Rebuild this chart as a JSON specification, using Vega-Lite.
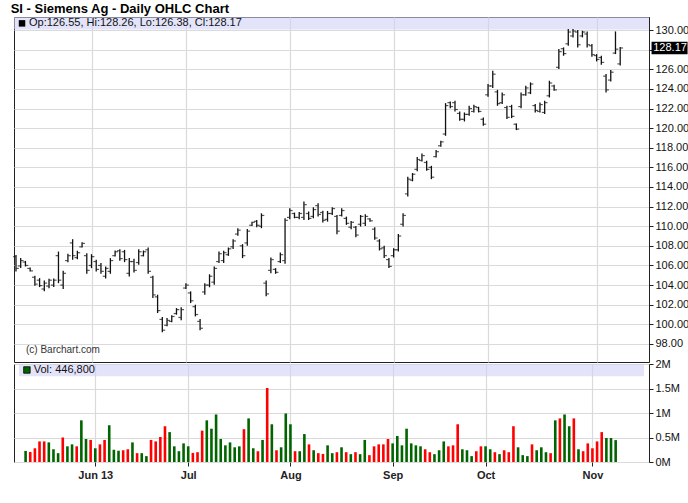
{
"$schema": "https://vega.github.io/schema/vega-lite/v6.json",
"padding": {"left": 10, "top": 2, "right": 2, "bottom": 2},
"title": {"text": "SI - Siemens Ag - Daily OHLC Chart", "anchor": "start", "frame": "bounds", "font": "Liberation Sans", "fontSize": 13, "fontWeight": "bold", "color": "#000", "offset": 1, "dx": -2},
"spacing": 2,
"bounds": "flush",
"datasets": {"bars": [
{"i":0,"o":106.9,"h":107.08,"l":105.39,"c":105.7,"v":null,"d":null},
{"i":1,"o":105.95,"h":106.75,"l":105.73,"c":106.5,"v":226000,"d":"u"},
{"i":2,"o":106.35,"h":106.47,"l":105.9,"c":106.0,"v":205000,"d":"d"},
{"i":3,"o":105.7,"h":105.8,"l":105.39,"c":105.45,"v":280000,"d":"d"},
{"i":4,"o":104.8,"h":104.95,"l":103.93,"c":104.1,"v":420000,"d":"d"},
{"i":5,"o":104.5,"h":104.71,"l":103.8,"c":103.95,"v":420000,"d":"d"},
{"i":6,"o":103.6,"h":104.47,"l":103.36,"c":104.2,"v":400000,"d":"u"},
{"i":7,"o":103.9,"h":104.64,"l":103.69,"c":104.5,"v":260000,"d":"u"},
{"i":8,"o":104.0,"h":104.68,"l":103.8,"c":104.5,"v":180000,"d":"u"},
{"i":9,"o":107.0,"h":107.42,"l":104.2,"c":104.5,"v":500000,"d":"d"},
{"i":10,"o":104.0,"h":105.46,"l":103.59,"c":105.2,"v":320000,"d":"u"},
{"i":11,"o":106.5,"h":107.19,"l":106.34,"c":107.0,"v":360000,"d":"u"},
{"i":12,"o":108.3,"h":108.68,"l":106.58,"c":107.0,"v":320000,"d":"d"},
{"i":13,"o":106.8,"h":107.49,"l":106.64,"c":107.3,"v":850000,"d":"u"},
{"i":14,"o":107.9,"h":108.37,"l":107.83,"c":108.25,"v":470000,"d":"u"},
{"i":15,"o":107.0,"h":107.25,"l":105.15,"c":105.5,"v":450000,"d":"d"},
{"i":16,"o":106.0,"h":107.15,"l":105.73,"c":106.9,"v":280000,"d":"u"},
{"i":17,"o":106.4,"h":106.58,"l":105.39,"c":105.6,"v":360000,"d":"d"},
{"i":18,"o":106.0,"h":106.24,"l":105.15,"c":105.4,"v":450000,"d":"d"},
{"i":19,"o":104.9,"h":105.9,"l":104.68,"c":105.7,"v":750000,"d":"u"},
{"i":20,"o":105.4,"h":106.75,"l":105.15,"c":106.5,"v":250000,"d":"u"},
{"i":21,"o":107.0,"h":107.53,"l":106.92,"c":107.4,"v":230000,"d":"u"},
{"i":22,"o":107.5,"h":107.66,"l":106.47,"c":106.7,"v":240000,"d":"d"},
{"i":23,"o":107.4,"h":107.59,"l":106.34,"c":106.6,"v":260000,"d":"d"},
{"i":24,"o":105.2,"h":106.75,"l":104.88,"c":106.4,"v":400000,"d":"u"},
{"i":25,"o":106.4,"h":106.68,"l":105.29,"c":105.5,"v":180000,"d":"d"},
{"i":26,"o":106.3,"h":107.66,"l":106.07,"c":107.4,"v":180000,"d":"u"},
{"i":27,"o":107.0,"h":107.53,"l":106.92,"c":107.4,"v":120000,"d":"u"},
{"i":28,"o":107.6,"h":107.83,"l":105.15,"c":105.4,"v":450000,"d":"d"},
{"i":29,"o":104.8,"h":104.95,"l":102.68,"c":103.0,"v":420000,"d":"d"},
{"i":30,"o":102.8,"h":103.02,"l":101.15,"c":101.4,"v":510000,"d":"d"},
{"i":31,"o":100.5,"h":100.75,"l":99.19,"c":99.4,"v":730000,"d":"d"},
{"i":32,"o":99.9,"h":100.64,"l":99.8,"c":100.4,"v":610000,"d":"u"},
{"i":33,"o":100.3,"h":100.92,"l":100.2,"c":100.8,"v":320000,"d":"u"},
{"i":34,"o":101.1,"h":101.66,"l":100.98,"c":101.5,"v":220000,"d":"u"},
{"i":35,"o":100.7,"h":101.73,"l":100.41,"c":101.5,"v":380000,"d":"u"},
{"i":36,"o":103.7,"h":104.2,"l":103.59,"c":104.0,"v":320000,"d":"u"},
{"i":37,"o":103.2,"h":103.36,"l":102.17,"c":102.4,"v":185000,"d":"d"},
{"i":38,"o":101.8,"h":102.0,"l":100.81,"c":101.0,"v":200000,"d":"d"},
{"i":39,"o":100.3,"h":100.54,"l":99.39,"c":99.6,"v":640000,"d":"d"},
{"i":40,"o":103.3,"h":104.2,"l":103.02,"c":104.0,"v":850000,"d":"u"},
{"i":41,"o":104.0,"h":105.1,"l":103.78,"c":104.9,"v":680000,"d":"u"},
{"i":42,"o":104.3,"h":105.9,"l":104.03,"c":105.7,"v":970000,"d":"u"},
{"i":43,"o":106.4,"h":107.42,"l":106.24,"c":107.2,"v":470000,"d":"u"},
{"i":44,"o":106.5,"h":107.49,"l":106.24,"c":107.3,"v":340000,"d":"u"},
{"i":45,"o":107.1,"h":107.83,"l":106.98,"c":107.7,"v":400000,"d":"u"},
{"i":46,"o":107.9,"h":108.68,"l":107.69,"c":108.5,"v":300000,"d":"u"},
{"i":47,"o":109.2,"h":109.8,"l":109.02,"c":109.6,"v":320000,"d":"u"},
{"i":48,"o":108.0,"h":108.17,"l":106.75,"c":107.0,"v":670000,"d":"d"},
{"i":49,"o":108.3,"h":109.73,"l":108.0,"c":109.5,"v":890000,"d":"u"},
{"i":50,"o":110.1,"h":110.47,"l":110.03,"c":110.4,"v":280000,"d":"u"},
{"i":51,"o":110.5,"h":110.64,"l":109.9,"c":110.1,"v":220000,"d":"d"},
{"i":52,"o":110.0,"h":111.32,"l":109.8,"c":111.1,"v":450000,"d":"u"},
{"i":53,"o":104.2,"h":104.47,"l":102.85,"c":103.1,"v":1510000,"d":"d"},
{"i":54,"o":105.5,"h":106.81,"l":105.22,"c":106.6,"v":770000,"d":"u"},
{"i":55,"o":105.6,"h":105.73,"l":105.15,"c":105.3,"v":240000,"d":"d"},
{"i":56,"o":106.4,"h":107.32,"l":106.24,"c":107.1,"v":300000,"d":"u"},
{"i":57,"o":106.5,"h":110.81,"l":106.17,"c":110.6,"v":990000,"d":"u"},
{"i":58,"o":110.9,"h":111.83,"l":110.71,"c":111.6,"v":770000,"d":"u"},
{"i":59,"o":111.3,"h":111.39,"l":110.81,"c":110.9,"v":220000,"d":"d"},
{"i":60,"o":110.9,"h":111.46,"l":110.71,"c":111.3,"v":220000,"d":"u"},
{"i":61,"o":110.9,"h":112.51,"l":110.64,"c":112.2,"v":570000,"d":"u"},
{"i":62,"o":111.3,"h":111.49,"l":110.64,"c":110.8,"v":360000,"d":"d"},
{"i":63,"o":111.0,"h":111.93,"l":110.81,"c":111.7,"v":240000,"d":"u"},
{"i":64,"o":112.1,"h":112.34,"l":110.98,"c":111.2,"v":180000,"d":"d"},
{"i":65,"o":111.4,"h":111.59,"l":110.37,"c":110.6,"v":165000,"d":"d"},
{"i":66,"o":110.7,"h":111.56,"l":110.47,"c":111.3,"v":340000,"d":"u"},
{"i":67,"o":111.3,"h":111.93,"l":111.15,"c":111.8,"v":180000,"d":"u"},
{"i":68,"o":111.0,"h":111.15,"l":109.19,"c":109.5,"v":200000,"d":"d"},
{"i":69,"o":111.1,"h":111.83,"l":110.98,"c":111.6,"v":300000,"d":"u"},
{"i":70,"o":110.8,"h":110.98,"l":110.14,"c":110.3,"v":200000,"d":"d"},
{"i":71,"o":109.9,"h":110.54,"l":109.69,"c":110.4,"v":160000,"d":"u"},
{"i":72,"o":109.9,"h":110.03,"l":108.88,"c":109.1,"v":200000,"d":"d"},
{"i":73,"o":110.2,"h":111.15,"l":109.97,"c":111.0,"v":160000,"d":"u"},
{"i":74,"o":110.3,"h":111.22,"l":110.03,"c":111.0,"v":450000,"d":"u"},
{"i":75,"o":110.75,"h":110.81,"l":110.47,"c":110.55,"v":140000,"d":"d"},
{"i":76,"o":109.7,"h":109.9,"l":108.61,"c":108.8,"v":320000,"d":"d"},
{"i":77,"o":108.5,"h":108.68,"l":107.53,"c":107.7,"v":360000,"d":"d"},
{"i":78,"o":107.8,"h":108.0,"l":106.75,"c":107.0,"v":360000,"d":"d"},
{"i":79,"o":106.6,"h":106.75,"l":105.73,"c":105.9,"v":470000,"d":"d"},
{"i":80,"o":107.0,"h":107.76,"l":106.81,"c":107.6,"v":380000,"d":"u"},
{"i":81,"o":107.6,"h":109.22,"l":107.42,"c":109.0,"v":530000,"d":"u"},
{"i":82,"o":110.2,"h":111.32,"l":109.97,"c":111.1,"v":340000,"d":"u"},
{"i":83,"o":113.3,"h":115.05,"l":113.02,"c":114.8,"v":680000,"d":"u"},
{"i":84,"o":114.7,"h":115.42,"l":114.58,"c":115.3,"v":380000,"d":"u"},
{"i":85,"o":115.8,"h":117.05,"l":115.6,"c":116.8,"v":340000,"d":"u"},
{"i":86,"o":116.7,"h":117.41,"l":116.6,"c":117.2,"v":320000,"d":"u"},
{"i":87,"o":116.5,"h":116.67,"l":115.65,"c":115.8,"v":260000,"d":"d"},
{"i":88,"o":116.0,"h":116.16,"l":114.8,"c":115.0,"v":200000,"d":"d"},
{"i":89,"o":117.1,"h":117.76,"l":117.01,"c":117.6,"v":160000,"d":"u"},
{"i":90,"o":118.2,"h":118.71,"l":118.1,"c":118.6,"v":240000,"d":"u"},
{"i":91,"o":119.4,"h":122.55,"l":119.22,"c":122.3,"v":420000,"d":"u"},
{"i":92,"o":122.6,"h":122.72,"l":122.04,"c":122.2,"v":320000,"d":"d"},
{"i":93,"o":122.6,"h":122.79,"l":121.7,"c":121.9,"v":340000,"d":"d"},
{"i":94,"o":121.5,"h":121.7,"l":120.75,"c":120.9,"v":770000,"d":"d"},
{"i":95,"o":120.9,"h":121.6,"l":120.68,"c":121.4,"v":260000,"d":"u"},
{"i":96,"o":121.4,"h":122.28,"l":121.26,"c":122.0,"v":240000,"d":"u"},
{"i":97,"o":121.7,"h":122.38,"l":121.6,"c":122.2,"v":120000,"d":"u"},
{"i":98,"o":122.1,"h":122.18,"l":121.6,"c":121.7,"v":220000,"d":"d"},
{"i":99,"o":120.9,"h":121.09,"l":120.24,"c":120.4,"v":320000,"d":"d"},
{"i":100,"o":123.4,"h":124.49,"l":123.2,"c":124.3,"v":320000,"d":"u"},
{"i":101,"o":124.3,"h":125.85,"l":124.08,"c":125.5,"v":260000,"d":"u"},
{"i":102,"o":123.7,"h":123.91,"l":122.28,"c":122.5,"v":200000,"d":"d"},
{"i":103,"o":122.6,"h":123.64,"l":122.45,"c":123.4,"v":160000,"d":"u"},
{"i":104,"o":122.1,"h":122.28,"l":120.92,"c":121.1,"v":240000,"d":"d"},
{"i":105,"o":122.2,"h":122.38,"l":121.02,"c":121.2,"v":200000,"d":"d"},
{"i":106,"o":120.4,"h":120.48,"l":119.8,"c":119.9,"v":730000,"d":"d"},
{"i":107,"o":122.2,"h":123.64,"l":122.04,"c":123.4,"v":300000,"d":"u"},
{"i":108,"o":123.4,"h":124.32,"l":123.3,"c":124.1,"v":140000,"d":"u"},
{"i":109,"o":123.6,"h":124.66,"l":123.47,"c":124.5,"v":120000,"d":"u"},
{"i":110,"o":122.3,"h":122.45,"l":121.6,"c":121.8,"v":360000,"d":"d"},
{"i":111,"o":121.7,"h":122.62,"l":121.6,"c":122.4,"v":240000,"d":"u"},
{"i":112,"o":121.6,"h":122.79,"l":121.43,"c":122.6,"v":300000,"d":"u"},
{"i":113,"o":123.3,"h":124.83,"l":123.13,"c":124.6,"v":200000,"d":"u"},
{"i":114,"o":124.3,"h":124.42,"l":123.81,"c":123.9,"v":180000,"d":"d"},
{"i":115,"o":126.2,"h":128.06,"l":126.02,"c":127.8,"v":850000,"d":"u"},
{"i":116,"o":128.1,"h":128.23,"l":127.38,"c":127.6,"v":890000,"d":"d"},
{"i":117,"o":128.6,"h":130.1,"l":128.4,"c":129.8,"v":970000,"d":"u"},
{"i":118,"o":129.4,"h":130.1,"l":129.25,"c":129.9,"v":730000,"d":"u"},
{"i":119,"o":129.8,"h":130.0,"l":128.23,"c":128.5,"v":890000,"d":"d"},
{"i":120,"o":129.4,"h":129.93,"l":129.25,"c":129.8,"v":260000,"d":"u"},
{"i":121,"o":129.6,"h":129.86,"l":128.23,"c":128.5,"v":220000,"d":"d"},
{"i":122,"o":128.4,"h":128.57,"l":127.28,"c":127.5,"v":380000,"d":"d"},
{"i":123,"o":127.4,"h":127.55,"l":126.8,"c":127.0,"v":280000,"d":"d"},
{"i":124,"o":127.2,"h":127.38,"l":126.46,"c":126.7,"v":420000,"d":"d"},
{"i":125,"o":125.3,"h":125.51,"l":123.64,"c":123.9,"v":610000,"d":"d"},
{"i":126,"o":124.9,"h":125.92,"l":124.76,"c":125.7,"v":490000,"d":"u"},
{"i":127,"o":127.65,"h":129.86,"l":127.55,"c":128.05,"v":490000,"d":"u"},
{"i":128,"o":126.55,"h":128.26,"l":126.38,"c":128.17,"v":446800,"d":"u"}
]},
"config": {
  "view": {"stroke": "#222", "strokeWidth": 1},
  "axis": {"labelFont": "Liberation Sans", "labelFontSize": 11, "labelColor": "#111", "gridColor": "#dadada", "gridWidth": 1.2, "domainColor": "#222", "tickColor": "#222", "zindex": 0},
  "text": {"font": "Liberation Sans"}
},
"vconcat": [
 {
  "width": 635, "height": 345,
  "data": {"name": "bars"},
  "layer": [
   {"data": {"values": [{}]}, "mark": {"type": "rect", "color": "#d0d0f6", "opacity": 0.6},
    "encoding": {"x": {"datum": -0.42, "type": "quantitative"}, "x2": {"datum": 134.1}, "y": {"datum": 130.05, "type": "quantitative"}, "y2": {"datum": 131.33}}},
   {"mark": {"type": "rule", "color": "#111", "strokeWidth": 1.3},
    "encoding": {
      "x": {"field": "i", "type": "quantitative", "scale": {"domain": [-0.42, 134.1], "nice": false, "zero": false},
            "axis": {"values": [16,36,58,80,100,123], "tickCount": 50, "grid": true, "labels": false, "ticks": false, "domain": false, "title": null, "minExtent": 0, "maxExtent": 0, "offset": 0}},
      "y": {"field": "l", "type": "quantitative", "scale": {"domain": [96.16, 131.33], "nice": false, "zero": false},
            "axis": {"orient": "right", "values": [98,100,102,104,106,108,110,112,114,116,118,120,122,124,126,128,130], "tickCount": 50, "labelExpr": "datum.value == 128 ? '' : format(datum.value, '.2f')", "grid": true, "tickSize": 4, "labelPadding": 2, "labelOverlap": false, "labelBound": false, "title": null}},
      "y2": {"field": "h"}}},
   {"mark": {"type": "tick", "orient": "horizontal", "size": 2.5, "thickness": 1.2, "xOffset": -1.6, "color": "#111"},
    "encoding": {"x": {"field": "i", "type": "quantitative"}, "y": {"field": "o", "type": "quantitative"}}},
   {"mark": {"type": "tick", "orient": "horizontal", "size": 2.5, "thickness": 1.2, "xOffset": 1.6, "color": "#111"},
    "encoding": {"x": {"field": "i", "type": "quantitative"}, "y": {"field": "c", "type": "quantitative"}}},
   {"data": {"values": [{}]}, "mark": {"type": "point", "shape": "square", "filled": true, "size": 42, "color": "#000", "opacity": 1},
    "encoding": {"x": {"datum": 1.28, "type": "quantitative"}, "y": {"datum": 130.68, "type": "quantitative"}}},
   {"data": {"values": [{}]}, "mark": {"type": "text", "text": "Op:126.55, Hi:128.26, Lo:126.38, Cl:128.17", "align": "left", "baseline": "middle", "fontSize": 11, "color": "#111"},
    "encoding": {"x": {"datum": 2.76, "type": "quantitative"}, "y": {"datum": 130.68, "type": "quantitative"}}},
   {"data": {"values": [{}]}, "mark": {"type": "text", "text": "(c) Barchart.com", "align": "left", "baseline": "middle", "fontSize": 10, "color": "#333"},
    "encoding": {"x": {"datum": 2.12, "type": "quantitative"}, "y": {"datum": 97.38, "type": "quantitative"}}},
   {"data": {"values": [{}]}, "mark": {"type": "rect", "color": "#000"},
    "encoding": {"x": {"datum": 134.64, "type": "quantitative"}, "x2": {"datum": 142.27}, "y": {"datum": 128.8, "type": "quantitative"}, "y2": {"datum": 127.54}}},
   {"transform": [{"filter": "datum.i == 128"}], "mark": {"type": "text", "align": "left", "baseline": "middle", "fontSize": 11, "color": "#fff"},
    "encoding": {"x": {"datum": 135.0, "type": "quantitative"}, "y": {"field": "c", "type": "quantitative"}, "text": {"field": "c", "type": "quantitative", "format": ".2f"}}}
  ]
 },
 {
  "width": 635, "height": 98,
  "data": {"name": "bars"},
  "layer": [
   {"data": {"values": [{}]}, "mark": {"type": "rect", "color": "#d0d0f6", "opacity": 0.6},
    "encoding": {"x": {"datum": -0.42, "type": "quantitative"}, "x2": {"datum": 134.1}, "y": {"datum": 1750000, "type": "quantitative"}, "y2": {"datum": 2000000}}},
   {"mark": {"type": "bar", "width": 2.6},
    "encoding": {
      "x": {"field": "i", "type": "quantitative", "scale": {"domain": [-0.42, 134.1], "nice": false, "zero": false},
            "axis": {"values": [16,36,58,80,100,123], "tickCount": 50, "labelExpr": "datum.value==16?'Jun 13':datum.value==36?'Jul':datum.value==58?'Aug':datum.value==80?'Sep':datum.value==100?'Oct':'Nov'", "grid": true, "tickSize": 4, "labelPadding": 3, "labelFontWeight": "bold", "labelColor": "#222", "domain": false, "title": null}},
      "y": {"field": "v", "type": "quantitative", "scale": {"domain": [0, 2000000], "nice": false},
            "axis": {"orient": "right", "values": [0, 500000, 1000000, 1500000, 2000000], "tickCount": 50, "labelExpr": "datum.value/1000000 + 'M'", "grid": true, "tickSize": 4, "labelPadding": 2, "labelOverlap": false, "labelBound": false, "title": null}},
      "color": {"field": "d", "type": "nominal", "scale": {"domain": ["u", "d"], "range": ["#006400", "#ff0000"]}, "legend": null}}},
   {"data": {"values": [{}]}, "mark": {"type": "point", "shape": "square", "filled": true, "size": 42, "color": "#006400", "stroke": "#000", "strokeWidth": 0.8, "opacity": 1},
    "encoding": {"x": {"datum": 1.28, "type": "quantitative"}, "y": {"datum": 1878000, "type": "quantitative"}}},
   {"data": {"values": [{}]}, "mark": {"type": "text", "text": "Vol: 446,800", "align": "left", "baseline": "middle", "fontSize": 11, "color": "#111"},
    "encoding": {"x": {"datum": 2.76, "type": "quantitative"}, "y": {"datum": 1878000, "type": "quantitative"}}}
  ]
 }
]
}
